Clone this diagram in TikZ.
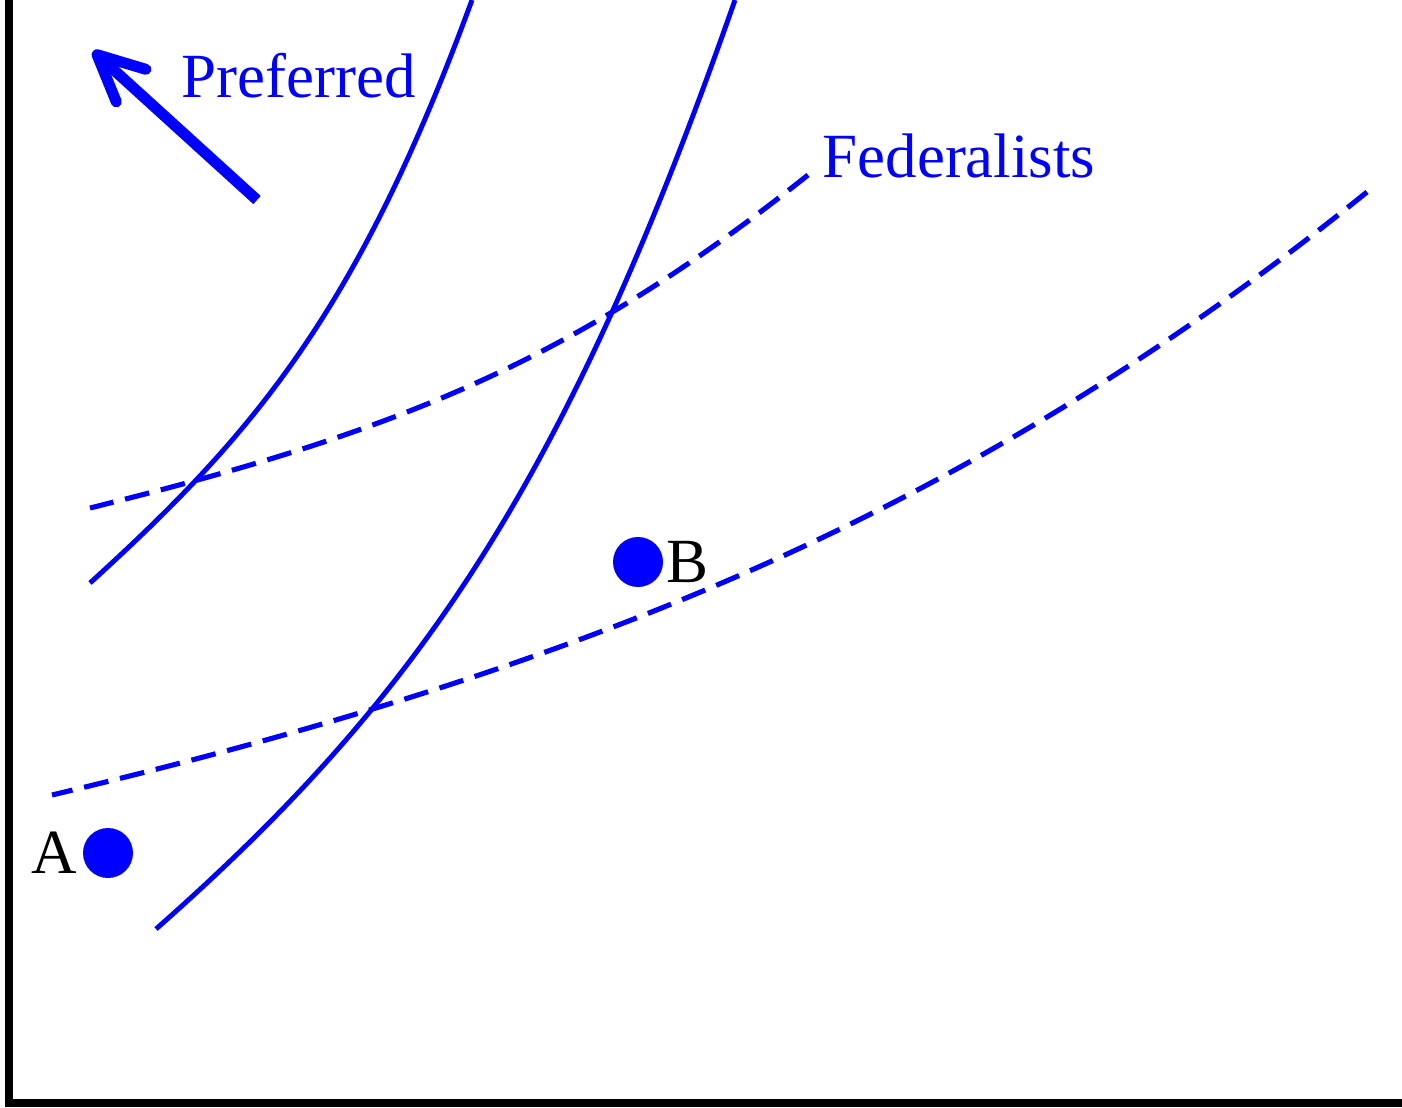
\documentclass[tikz,border=0pt]{standalone}
\usepackage{fontspec}
\setmainfont{Liberation Serif}
\usepackage{tikz}
\usetikzlibrary{arrows.meta,positioning}

\begin{document}
\begin{tikzpicture}[
    indiff/.style={blue,line width=1.4pt},
    fedline/.style={blue,line width=1.45pt,dash pattern=on 7.1pt off 3.4pt},
    dot/.style={circle,fill=blue,inner sep=0pt,minimum size=0.5cm},
    lbl/.style={inner sep=0pt,font=\fontsize{17.9}{21}\selectfont}]
  \useasboundingbox (0,0) rectangle (14.02,11.07);
  % axes
  \draw[line width=0.08cm] (0.09,11.07) -- (0.09,0.04) -- (14.02,0.04);
  % solid curves
  \draw[indiff] (0.90,5.24) .. controls (2.55,6.74) and (3.58,7.96) .. (4.72,11.07);
  \draw[indiff] (1.56,1.78) .. controls (4.18,4.09) and (5.65,6.22) .. (7.35,11.07);
  % dashed curves
  \draw[fedline] (8.08,9.32) .. controls (5.67,7.40) and (3.87,6.73) .. (0.90,5.99);
  \draw[fedline] (13.67,9.15) .. controls (9.70,5.94) and (5.84,4.39) .. (0.52,3.12);
  % preferred direction
  \coordinate (arrtail) at (2.57,9.07);
  \coordinate (arrtip) at (0.93,10.56);
  \draw[blue,line width=0.11cm,-{Straight Barb[length=4.6mm,width=4.4mm,round]}]
    (arrtail) -- (arrtip);
  \node[lbl,blue,anchor=base west] (pref) at (1.81,10.10) {Preferred};
  \node[lbl,blue,anchor=base west] (fed) at (8.22,9.30) {Federalists};
  % points
  \node[dot] (ptA) at (1.08,2.54) {};
  \node[dot] (ptB) at (6.38,5.45) {};
  \node[lbl,left=0.05cm of ptA] (labA) {A};
  \node[lbl,right=0.02cm of ptB] (labB) {B};
\end{tikzpicture}
\end{document}
